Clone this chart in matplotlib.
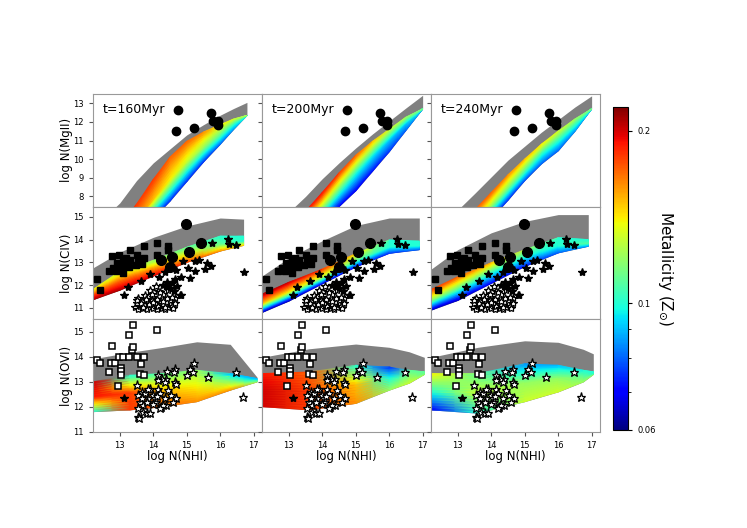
import numpy as np
import matplotlib
matplotlib.use('Agg')
import matplotlib.pyplot as plt
from matplotlib.colors import LogNorm
from matplotlib.cm import ScalarMappable

# ---- simulation clouds
# edges of the gray cloud and of the coloured cloud, metallicity at bottom / middle / top of the coloured cloud
# MgII
mg160_x = [12.5, 13.0, 13.5, 14.0, 14.5, 15.0, 15.5, 16.0, 16.4, 16.8]
mg160_gray = [6.8, 7.65, 8.85, 9.8, 10.55, 11.3, 11.85, 12.36, 12.72, 13.05]
mg160_top = [5.5, 6.5, 7.57, 8.9, 10.1, 10.95, 11.45, 11.85, 12.15, 12.35]
mg160_bot = [4.0, 5.0, 5.9, 6.8, 7.75, 8.8, 9.85, 10.8, 11.6, 12.35]
mg160_ztop = [0.19, 0.19, 0.18, 0.18, 0.17, 0.17, 0.16, 0.14, 0.13, 0.12]
mg160_zmid = [0.16, 0.16, 0.16, 0.15, 0.14, 0.13, 0.12, 0.11, 0.1, 0.1]
mg160_zbot = [0.075, 0.075, 0.075, 0.075, 0.075, 0.075, 0.075, 0.08, 0.085, 0.1]

mg200_x = [12.5, 13.5, 14.0, 14.5, 15.0, 15.5, 16.0, 16.5, 17.0]
mg200_gray = [6.3, 8.0, 8.95, 9.8, 10.6, 11.35, 12.05, 12.75, 13.43]
mg200_top = [5.0, 7.2, 8.2, 9.25, 10.2, 10.95, 11.6, 12.25, 12.7]
mg200_bot = [3.5, 5.8, 6.6, 7.45, 8.3, 9.35, 10.4, 11.55, 12.7]
mg200_ztop = [0.19, 0.19, 0.19, 0.18, 0.17, 0.15, 0.13, 0.12, 0.11]
mg200_zmid = [0.13, 0.13, 0.12, 0.11, 0.1, 0.095, 0.09, 0.09, 0.1]
mg200_zbot = [0.07, 0.07, 0.07, 0.07, 0.07, 0.072, 0.075, 0.08, 0.09]

mg240_x = [12.5, 13.5, 14.0, 14.5, 15.0, 15.5, 16.0, 16.5, 17.0]
mg240_gray = [6.4, 8.15, 9.05, 9.95, 10.7, 11.45, 12.12, 12.8, 13.4]
mg240_top = [5.0, 7.25, 8.2, 9.15, 10.0, 10.8, 11.5, 12.15, 12.7]
mg240_bot = [3.8, 5.8, 6.8, 7.8, 8.85, 9.75, 10.45, 11.5, 12.7]
mg240_ztop = [0.17, 0.17, 0.17, 0.16, 0.15, 0.14, 0.13, 0.12, 0.11]
mg240_zmid = [0.13, 0.13, 0.12, 0.115, 0.11, 0.1, 0.1, 0.1, 0.1]
mg240_zbot = [0.075, 0.075, 0.075, 0.075, 0.078, 0.08, 0.08, 0.085, 0.09]

# CIV
c160_x = [12.2, 13.0, 14.0, 15.0, 16.0, 16.7]
c160_gray = [12.76, 13.45, 14.1, 14.6, 14.95, 14.9]
c160_top = [11.8, 12.6, 13.08, 13.66, 14.15, 14.15]
c160_bot = [11.36, 11.78, 12.4, 13.0, 13.5, 13.75]
c160_ztop = [0.14, 0.13, 0.12, 0.11, 0.1, 0.1]
c160_zmid = [0.18, 0.17, 0.16, 0.14, 0.11, 0.1]
c160_zbot = [0.21, 0.21, 0.2, 0.18, 0.16, 0.15]

c200_x = [12.2, 13.0, 14.0, 15.0, 16.0, 16.9]
c200_gray = [12.4, 13.2, 13.95, 14.62, 14.95, 14.95]
c200_top = [11.6, 12.12, 12.7, 13.38, 13.98, 13.93]
c200_bot = [10.8, 11.3, 12.06, 12.8, 13.4, 13.56]
c200_ztop = [0.21, 0.2, 0.18, 0.14, 0.1, 0.1]
c200_zmid = [0.15, 0.14, 0.13, 0.11, 0.1, 0.1]
c200_zbot = [0.065, 0.065, 0.068, 0.07, 0.075, 0.08]

c240_x = [12.2, 13.0, 14.0, 15.0, 16.0, 16.9]
c240_gray = [12.7, 13.56, 14.3, 14.8, 15.1, 15.1]
c240_top = [11.8, 12.36, 12.98, 13.55, 14.08, 14.0]
c240_bot = [10.9, 11.33, 12.08, 12.82, 13.42, 13.71]
c240_ztop = [0.18, 0.17, 0.15, 0.12, 0.1, 0.1]
c240_zmid = [0.12, 0.11, 0.1, 0.095, 0.1, 0.11]
c240_zbot = [0.065, 0.065, 0.07, 0.072, 0.08, 0.085]

# OVI
o160_x = [12.2, 13.3, 14.3, 15.3, 16.3, 17.1]
o160_gray = [13.92, 14.18, 14.38, 14.6, 14.5, 13.19]
o160_top = [13.0, 13.26, 13.33, 13.46, 13.33, 13.13]
o160_bot = [11.81, 11.88, 12.01, 12.21, 12.67, 13.0]
o160_ztop = [0.2, 0.1, 0.11, 0.12, 0.09, 0.09]
o160_zmid = [0.19, 0.18, 0.15, 0.14, 0.12, 0.1]
o160_zbot = [0.1, 0.18, 0.17, 0.16, 0.16, 0.12]

o200_x = [12.2, 13.6, 15.0, 16.0, 16.6, 17.05]
o200_gray = [13.98, 14.32, 14.51, 14.38, 14.2, 13.98]
o200_top = [13.33, 13.39, 13.66, 13.59, 13.46, 13.4]
o200_bot = [12.01, 11.88, 12.14, 12.67, 12.95, 13.3]
o200_ztop = [0.19, 0.17, 0.1, 0.075, 0.11, 0.11]
o200_zmid = [0.2, 0.18, 0.15, 0.1, 0.12, 0.11]
o200_zbot = [0.2, 0.18, 0.16, 0.12, 0.13, 0.12]

o240_x = [12.2, 13.6, 15.0, 16.0, 16.75, 17.05]
o240_gray = [13.98, 14.38, 14.64, 14.58, 14.3, 14.12]
o240_top = [13.33, 13.33, 13.72, 13.66, 13.46, 13.4]
o240_bot = [11.88, 11.75, 12.21, 12.6, 13.0, 13.3]
o240_ztop = [0.14, 0.11, 0.085, 0.09, 0.1, 0.1]
o240_zmid = [0.1, 0.13, 0.12, 0.12, 0.11, 0.1]
o240_zbot = [0.07, 0.1, 0.13, 0.13, 0.12, 0.12]

# ---- observations (same in every column)
mg_circ_x = [14.74, 14.67, 15.23, 15.73, 15.79, 15.93, 15.93]
mg_circ_y = [12.66, 11.51, 11.69, 12.47, 12.06, 12.06, 11.81]

c_circ_x = [14.97, 15.43, 15.06, 14.56, 14.22, 14.51]
c_circ_y = [14.70, 13.83, 13.45, 13.24, 13.12, 12.79]

c_sq_x = [12.31, 12.41, 12.77, 13.31, 13.72, 14.11, 14.43, 14.43, 13.52, 13.72, 14.11, 12.91, 13.09, 13.19,
          12.97, 13.07, 12.79, 12.69, 13.29, 13.47, 13.67, 13.54, 13.32, 13.19, 12.99, 13.0, 12.9, 13.1]
c_sq_y = [12.27, 11.78, 13.27, 13.56, 13.70, 13.83, 13.74, 13.55, 13.33, 13.18, 13.31, 12.97, 13.07, 12.92,
          12.74, 12.67, 12.74, 12.60, 12.79, 12.89, 12.92, 13.11, 13.11, 13.21, 13.33, 12.85, 12.6, 12.55]

c_star_x = [13.12, 13.25, 13.62, 13.90, 14.17, 14.34, 14.41, 14.49, 14.64, 14.69, 14.84, 14.89, 15.04, 15.09,
            15.24, 15.24, 15.37, 15.54, 15.61, 15.74, 15.76, 16.23, 16.26, 16.48, 16.70, 14.62, 14.84, 14.39,
            14.3, 14.55, 14.7]
c_star_y = [11.56, 11.92, 12.17, 12.49, 12.36, 12.56, 12.14, 11.88, 12.27, 12.65, 12.36, 13.07, 12.74, 12.30,
            12.60, 13.08, 13.12, 12.71, 12.97, 12.82, 13.83, 14.04, 13.81, 13.75, 12.56, 11.73, 11.58, 11.94,
            12.0, 12.1, 11.95]

c_ostar_x = [13.90, 14.09, 14.14, 14.44, 14.64, 14.79, 13.75, 13.55, 14.3, 14.0, 13.45, 13.5, 13.55, 13.6,
             13.65, 13.7, 13.75, 13.8, 13.85, 13.9, 13.95, 14.0, 14.05, 14.1, 14.15, 14.2, 14.25, 14.3, 14.35,
             14.4, 14.45, 14.5, 14.55, 14.6, 14.65, 13.5, 13.62, 13.78, 13.88, 14.12, 14.28, 14.42, 14.55,
             13.95, 14.2, 13.7, 14.0, 14.35]
c_ostar_y = [11.80, 11.95, 11.73, 11.80, 11.44, 11.58, 11.55, 11.45, 11.6, 11.5, 11.05, 11.2, 10.95, 11.1,
             11.3, 11.0, 11.15, 10.95, 11.25, 11.05, 11.35, 11.0, 11.2, 10.95, 11.1, 11.3, 11.0, 11.15, 10.95,
             11.25, 11.05, 11.35, 11.1, 11.0, 11.2, 11.35, 11.2, 11.4, 11.15, 11.4, 11.3, 11.45, 11.5,
             11.6, 11.7, 11.05, 11.25, 11.05]

o_sq_x = [13.41, 13.29, 14.11, 12.77, 13.37, 13.41, 12.31, 12.41, 12.74, 12.87, 12.99, 13.11, 13.29, 13.51,
          13.72, 13.62, 13.05, 13.05, 13.05, 12.69, 12.94, 13.59, 13.72]
o_sq_y = [15.28, 14.88, 15.08, 14.43, 14.29, 14.40, 13.87, 13.77, 13.77, 13.77, 13.98, 13.98, 13.98, 13.98,
          13.98, 13.70, 13.56, 13.45, 13.27, 13.41, 12.85, 13.30, 13.27]

o_ostar_x = [15.22, 14.64, 14.63, 15.09, 15.19, 15.02, 15.64, 14.42, 14.39, 14.26, 14.14, 14.14, 14.34, 14.64,
             13.50, 13.65, 13.90, 13.99, 14.14, 14.19, 14.44, 14.54, 14.69, 14.59, 14.34, 14.09, 14.24, 14.39,
             13.55, 13.60, 13.70, 13.55, 13.70, 13.80, 13.90, 13.55, 13.84, 13.75, 14.04, 13.58, 16.68, 16.48,
             14.69, 14.11, 13.99, 14.29, 14.19, 13.65, 13.80, 13.85]
o_ostar_y = [13.76, 13.50, 13.40, 13.50, 13.39, 13.29, 13.19, 13.42, 13.13, 13.13, 13.26, 13.07, 13.0, 13.0,
             12.89, 12.60, 12.73, 12.47, 12.73, 12.54, 12.67, 12.47, 12.34, 12.21, 12.34, 12.21, 12.01, 12.08,
             12.47, 12.21, 12.08, 11.94, 11.81, 11.75, 11.75, 11.61, 12.34, 12.54, 12.34, 11.55, 12.40, 13.39,
             12.93, 12.43, 12.10, 12.08, 11.97, 12.34, 12.18, 12.73]

o_star_x = [13.13]
o_star_y = [12.36]

times = ['t=160Myr', 't=200Myr', 't=240Myr']
ions = ['log N(MgII)', 'log N(CIV)', 'log N(OVI)']

bands = [
    [(mg160_x, mg160_gray, mg160_top, mg160_bot, mg160_ztop, mg160_zmid, mg160_zbot),
     (mg200_x, mg200_gray, mg200_top, mg200_bot, mg200_ztop, mg200_zmid, mg200_zbot),
     (mg240_x, mg240_gray, mg240_top, mg240_bot, mg240_ztop, mg240_zmid, mg240_zbot)],
    [(c160_x, c160_gray, c160_top, c160_bot, c160_ztop, c160_zmid, c160_zbot),
     (c200_x, c200_gray, c200_top, c200_bot, c200_ztop, c200_zmid, c200_zbot),
     (c240_x, c240_gray, c240_top, c240_bot, c240_ztop, c240_zmid, c240_zbot)],
    [(o160_x, o160_gray, o160_top, o160_bot, o160_ztop, o160_zmid, o160_zbot),
     (o200_x, o200_gray, o200_top, o200_bot, o200_ztop, o200_zmid, o200_zbot),
     (o240_x, o240_gray, o240_top, o240_bot, o240_ztop, o240_zmid, o240_zbot)],
]

norm = LogNorm(vmin=0.06, vmax=0.22)
cmap = plt.get_cmap('jet')

fig, axes = plt.subplots(3, 3, figsize=(7.47, 5.28), dpi=100, sharex=True, sharey='row')
plt.subplots_adjust(left=0.1245, right=0.8032, bottom=0.182, top=0.822, wspace=0, hspace=0)

t = np.linspace(0, 1, 15)

for i in range(3):
    for j in range(3):
        ax = axes[i, j]
        x, gtop, btop, bbot, ztop, zmid, zbot = [np.array(a) for a in bands[i][j]]
        ax.fill_between(x, bbot, gtop, color='#808080', lw=0, zorder=1)
        # mesh across the coloured cloud: rows go from its bottom edge to its top edge
        X = np.repeat(x[None, :], len(t), axis=0)
        Y = bbot + t[:, None] * (btop - bbot)
        Z = np.empty_like(Y)
        for k in range(len(x)):
            Z[:, k] = np.exp(np.interp(t, [0, 0.5, 1], np.log([zbot[k], zmid[k], ztop[k]])))
        ax.pcolormesh(X, Y, Z, shading='gouraud', cmap=cmap, norm=norm, zorder=2)

        if i == 0:
            ax.plot(mg_circ_x, mg_circ_y, 'o', color='k', ms=6, zorder=5)
            ax.text(0.06, 0.83, times[j], transform=ax.transAxes, fontsize=9)
        elif i == 1:
            ax.plot(c_ostar_x, c_ostar_y, '*', mfc='white', mec='k', mew=0.9, ms=6, zorder=4)
            ax.plot(c_sq_x, c_sq_y, 's', color='k', ms=5, zorder=5)
            ax.plot(c_star_x, c_star_y, '*', color='k', ms=6, zorder=5)
            ax.plot(c_circ_x, c_circ_y, 'o', color='k', ms=7, zorder=5)
        else:
            ax.plot(o_sq_x, o_sq_y, 's', mfc='white', mec='k', mew=1.1, ms=5, zorder=5)
            ax.plot(o_ostar_x, o_ostar_y, '*', mfc='white', mec='k', mew=0.9, ms=6.5, zorder=5)
            ax.plot(o_star_x, o_star_y, '*', color='k', ms=6, zorder=5)

        for s in ax.spines.values():
            s.set_color('#999999')
        ax.tick_params(labelsize=6, length=3, color='#555555')
        if j == 0:
            ax.set_ylabel(ions[i], fontsize=8.5, labelpad=0)
        if i == 2:
            ax.set_xlabel('log N(NHI)', fontsize=8.5, labelpad=0)

axes[0, 0].set_xlim(12.2, 17.25)
axes[0, 0].set_ylim(7.45, 13.5)
axes[0, 0].set_yticks([8, 9, 10, 11, 12, 13])
axes[1, 0].set_ylim(10.5, 15.45)
axes[1, 0].set_yticks([11, 12, 13, 14, 15])
axes[2, 0].set_ylim(11, 15.5)
axes[2, 0].set_yticks([11, 12, 13, 14, 15])
axes[2, 0].set_xticks([13, 14, 15, 16, 17])

cax = fig.add_axes([613 / 747, 98 / 528, 15 / 747, 323 / 528])
cb = fig.colorbar(ScalarMappable(norm=norm, cmap=cmap), cax=cax)
cb.set_ticks([0.06, 0.1, 0.2])
cb.set_ticklabels(['0.06', '0.1', '0.2'])
cb.ax.yaxis.set_ticks([0.07, 0.08, 0.09], minor=True)
cb.ax.tick_params(labelsize=6, length=3)
cb.ax.tick_params(which='minor', length=2)
cb.outline.set_linewidth(0.8)
cb.set_label(r'Metallicity (Z$_{\odot}$)', rotation=270, fontsize=11, labelpad=14)

plt.savefig('out.png', dpi=100)
